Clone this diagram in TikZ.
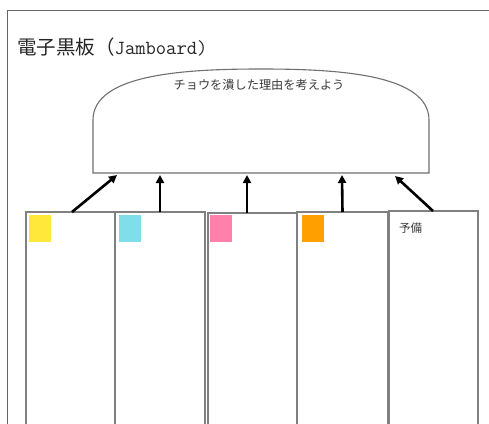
\documentclass[tikz,border=0pt]{standalone}
\usepackage{fontspec}
\newfontfamily\jp{Noto Sans CJK JP}
\usetikzlibrary{arrows.meta}
\definecolor{framegray}{HTML}{666666}
\definecolor{colgray}{HTML}{808080}
\definecolor{domegray}{HTML}{707070}
\definecolor{txtgray}{HTML}{3A3A3A}
\definecolor{stYellow}{HTML}{FFE83A}
\definecolor{stCyan}{HTML}{80DEEA}
\definecolor{stPink}{HTML}{FF80AB}
\definecolor{stOrange}{HTML}{FFA000}
\tikzset{
  colbox/.style={draw=colgray, line width=1.2pt, fill=white, anchor=north west, minimum height=240pt, inner sep=0pt, outer sep=0pt},
  sticky/.style={anchor=north west, minimum width=22pt, minimum height=27pt, inner sep=0pt},
  upar/.style={line width=2.6pt, -{Triangle[length=8pt,width=8pt]}},
}
\begin{document}
\begin{tikzpicture}[x=1pt,y=-1pt]
\useasboundingbox (0,0) rectangle (489,423);
\fill[white] (0,0) rectangle (489,423);
\begin{scope}
\clip (0,0) rectangle (489,423);
% outer frame
\draw[framegray, line width=1pt] (7,430) -- (7,10) -- (495,10);
% title
\node[anchor=west, inner sep=0pt, text=black!85] (title) at (17,47)
  {\fontsize{19.5}{21}\selectfont\jp 電子黒板（\ttfamily\fontsize{20}{22}\selectfont Jamboard)};
% dome
\draw[domegray, line width=1.1pt, fill=white]
  (93,173) -- (93,120) .. controls (93,74) and (185,69) .. (261,69)
  .. controls (337,69) and (429,74) .. (429,120) -- (429,173) -- cycle;
\node[text=txtgray, inner sep=0pt] (q) at (259,85)
  {\fontsize{12.2}{14}\selectfont\jp チョウを潰した理由を考えよう};
\coordinate (t1) at (117,175);
\coordinate (t2) at (160,175);
\coordinate (t3) at (247,175);
\coordinate (t4) at (342,175);
\coordinate (t5) at (395,176);
% columns
\node[colbox, minimum width=89pt] (c1) at (26,212) {};
\node[colbox, minimum width=90pt] (c2) at (115,212) {};
\node[colbox, minimum width=89pt] (c3) at (208,213) {};
\node[colbox, minimum width=91pt] (c4) at (297,212) {};
\node[colbox, minimum width=89pt] (c5) at (389,211) {};
% stickies
\node[sticky, fill=stYellow] (s1) at (29,215) {};
\node[sticky, fill=stCyan] (s2) at (119,215) {};
\node[sticky, fill=stPink] (s3) at (210,215) {};
\node[sticky, fill=stOrange] (s4) at (302,215) {};
\node[anchor=west, inner sep=0pt, text=txtgray] (yobi) at (399,228)
  {\fontsize{11.5}{13}\selectfont\jp 予備};
% arrows
\coordinate (f1) at (72,212);
\coordinate (f3) at (247,213);
\coordinate (f5) at (433,211);
\draw[upar] (f1) -- (t1);
\draw[upar] (c2.north) -- (t2);
\draw[upar] (f3) -- (t3);
\draw[upar] (c4.north) -- (t4);
\draw[upar] (f5) -- (t5);
\end{scope}
\end{tikzpicture}
\end{document}
